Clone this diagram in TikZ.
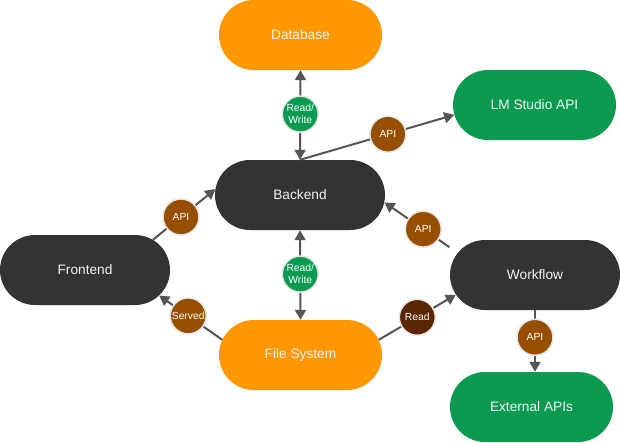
\documentclass[tikz,border=0pt]{standalone}
\usepackage{fontspec}
\setmainfont{Liberation Sans}
\usetikzlibrary{shapes.misc,arrows.meta}
\definecolor{cOrange}{HTML}{FF9800}
\definecolor{cDark}{HTML}{333333}
\definecolor{cGreen}{HTML}{0B9A50}
\definecolor{cBrown}{HTML}{964F00}
\definecolor{cRead}{HTML}{5A2600}
\definecolor{cLine}{HTML}{555555}
\definecolor{cText}{HTML}{F2F2F2}
\definecolor{cRing}{HTML}{E6E6E6}
\begin{document}
\begin{tikzpicture}[x=1pt,y=-1pt,
  box/.style={rounded rectangle, minimum height=70pt, inner sep=0pt, text=cText,
    font=\fontsize{13.7}{16}\selectfont},
  darkbox/.style={box, fill=cDark, minimum width=170pt},
  orangebox/.style={box, fill=cOrange, minimum width=163pt},
  greenbox/.style={box, fill=cGreen, minimum width=163pt},
  lbl/.style={circle, fill=cBrown, draw=cRing, line width=1.5pt, minimum size=36pt,
    inner sep=0pt, text=white, align=center, font=\fontsize{10.3}{12}\selectfont},
  rwlbl/.style={lbl, fill=cGreen},
  rdlbl/.style={lbl, fill=cRead},
  conn/.style={draw=cLine, line width=2pt, -{Triangle[length=10pt,width=11pt]}},
  biconn/.style={draw=cLine, line width=2pt, {Triangle[length=10pt,width=11pt]}-{Triangle[length=10pt,width=11pt]}}
]
\useasboundingbox[fill=white] (0,0) rectangle (620,442);

\node[orangebox] (database) at (300.5,35) {Database};
\node[greenbox] (lm) at (534.5,105) {LM Studio API};
\node[darkbox] (backend) at (300,195) {Backend};
\node[darkbox] (frontend) at (85,270) {Frontend};
\node[darkbox] (workflow) at (535,275) {Workflow};
\node[orangebox] (fs) at (300.5,355) {File System};
\node[greenbox] (external) at (531.5,407) {External APIs};

\draw[biconn] (backend.north) -- node[rwlbl, pos=0.51] (rw1) {Read/\\Write} (database.south);
\draw[conn] (backend.north) -- node[lbl, pos=0.57] (api1) {API} (lm.187);
\draw[conn] (frontend.24) -- node[lbl, pos=0.45] (api2) {API} (backend.176);
\draw[conn] (fs.169) -- node[lbl, pos=0.54] (srv) {Served} (frontend.341);
\draw[biconn] (fs.north) -- node[rwlbl, pos=0.51] (rw2) {Read/\\Write} (backend.south);
\draw[conn, shorten <=10pt] (workflow.164) -- node[lbl, pos=0.47] (api3) {API} (backend.355);
\draw[conn] (fs.11) -- node[rdlbl, pos=0.5] (rd) {Read} (workflow.194);
\draw[conn] (workflow.south) -- node[lbl, pos=0.44] (api4) {API} (workflow.south |- external.north);
\end{tikzpicture}
\end{document}
